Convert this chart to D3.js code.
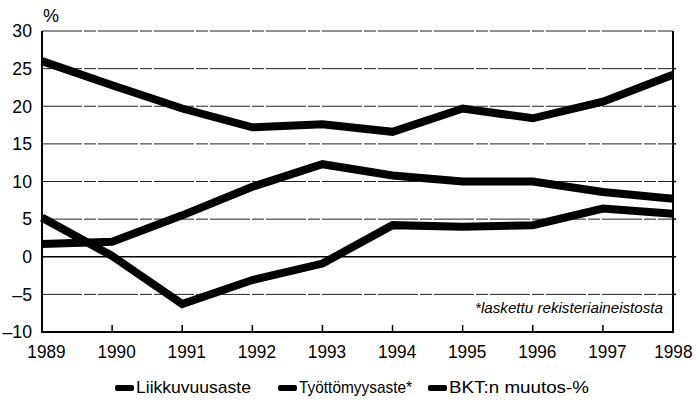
<!DOCTYPE html>
<meta charset="utf-8">
<style>
body { margin: 0; background: #fff; }
text { font-family: "Liberation Sans", Arial, sans-serif; fill: #000; }
.grid line { stroke: #222; stroke-width: 1; stroke-dasharray: 40,2,12,2; }
.series { fill: none; stroke: #000; stroke-width: 8; stroke-linejoin: miter; }
</style>
<svg width="696" height="403"></svg>
<script src="https://d3js.org/d3.v7.min.js"></script>
<script>

var years = [1989, 1990, 1991, 1992, 1993, 1994, 1995, 1996, 1997, 1998];
var liikkuvuus = [26.0, 22.8, 19.7, 17.2, 17.6, 16.6, 19.7, 18.4, 20.6, 24.2];
var tyottomyys = [1.7, 2.0, 5.5, 9.3, 12.3, 10.8, 10.0, 10.0, 8.6, 7.7];
var bkt = [5.2, 0.1, -6.3, -3.1, -0.9, 4.2, 4.0, 4.2, 6.4, 5.7];
var seriesNames = ["Liikkuvuusaste", "Työttömyysaste*", "BKT:n muutos-%"];
var yTicks = [-10, -5, 0, 5, 10, 15, 20, 25, 30];

var svg = d3.select("svg");

var x = d3.scaleLinear().domain([1989, 1998]).range([42, 673]);
var y = d3.scaleLinear().domain([-10, 30]).range([332, 31]);

// squeeze text horizontally, the original uses a condensed face
function condense(sel, k) {
  sel.each(function() {
    var w = this.getComputedTextLength();
    d3.select(this).attr("textLength", w * k).attr("lengthAdjust", "spacingAndGlyphs");
  });
}

// grid
svg.append("g").attr("class", "grid")
  .selectAll("line")
  .data(yTicks.filter(function(d) { return d !== -10 && d !== 0; }))
  .enter().append("line")
    .attr("x1", x(1989)).attr("x2", x(1998))
    .attr("y1", function(d) { return y(d); })
    .attr("y2", function(d) { return y(d); });

svg.append("line")
  .attr("x1", x(1989)).attr("x2", x(1998))
  .attr("y1", y(0)).attr("y2", y(0))
  .attr("stroke", "#000").attr("stroke-width", 1.5);

// frame
svg.append("line").attr("x1", x(1989)).attr("x2", x(1989)).attr("y1", y(30)).attr("y2", y(-10))
  .attr("stroke", "#000").attr("stroke-width", 2);
svg.append("line").attr("x1", x(1998)).attr("x2", x(1998)).attr("y1", y(30)).attr("y2", y(-10))
  .attr("stroke", "#000").attr("stroke-width", 2);
svg.append("line").attr("x1", x(1989) - 1).attr("x2", x(1998) + 1).attr("y1", y(-10)).attr("y2", y(-10))
  .attr("stroke", "#000").attr("stroke-width", 2);

// bottom axis
var xAxis = d3.axisBottom(x).tickValues(years).tickFormat(d3.format("d")).tickSize(0);
var gx = svg.append("g").attr("transform", "translate(0," + y(-10) + ")").call(xAxis);
gx.select(".domain").remove();
gx.selectAll("text")
  .attr("font-size", 18.5)
  .attr("y", 26).attr("dy", 0)
  .attr("x", function(d) { return d === 1998 ? 0 : 4; });
condense(gx.selectAll("text"), 0.93);
// last label is pulled in so it fits the page
gx.selectAll("text").filter(function(d) { return d === 1998; })
  .attr("text-anchor", "end").attr("x", 692 - x(1998));
svg.append("g").selectAll("line")
  .data(years.slice(1, -1))
  .enter().append("line")
    .attr("x1", function(d) { return x(d); }).attr("x2", function(d) { return x(d); })
    .attr("y1", y(-10)).attr("y2", y(-10) - 7)
    .attr("stroke", "#000").attr("stroke-width", 1.5);

// left axis
var yAxis = d3.axisLeft(y).tickValues(yTicks).tickFormat(function(d) { return d < 0 ? "\u2013" + Math.abs(d) : d; }).tickSize(0).tickPadding(10);
var gy = svg.append("g").attr("transform", "translate(" + x(1989) + ",0)").call(yAxis);
gy.select(".domain").remove();
gy.selectAll("text").attr("font-size", 18);
condense(gy.selectAll("text"), 0.98);

// right axis small ticks
svg.append("g").selectAll("line")
  .data(yTicks.slice(1, -1))
  .enter().append("line")
    .attr("x1", x(1998)).attr("x2", x(1998) + 3)
    .attr("y1", function(d) { return y(d); }).attr("y2", function(d) { return y(d); })
    .attr("stroke", "#000").attr("stroke-width", 1.5);

svg.append("text").attr("x", 43).attr("y", 22).attr("font-size", 18).text("%");

// series
var line = d3.line()
  .x(function(d, i) { return x(years[i]); })
  .y(function(d) { return y(d); });

[liikkuvuus, tyottomyys, bkt].forEach(function(s) {
  svg.append("path").attr("class", "series").attr("d", line(s));
});

svg.append("text")
  .attr("x", 475).attr("y", 313)
  .attr("font-size", 15)
  .attr("font-style", "italic")
  .attr("textLength", 188).attr("lengthAdjust", "spacingAndGlyphs")
  .text("*laskettu rekisteriaineistosta");

// legend
var legendX = [115, 278, 428];
var legendW = [115, 113, 140];
var lg = svg.append("g").selectAll("g")
  .data(seriesNames)
  .enter().append("g")
    .attr("transform", function(d, i) { return "translate(" + legendX[i] + ",393)"; });
lg.append("rect").attr("x", 0).attr("y", -8).attr("width", 19).attr("height", 6).attr("rx", 2);
lg.append("text").attr("x", 21).attr("y", 0).attr("font-size", 17)
  .attr("textLength", function(d, i) { return legendW[i]; })
  .attr("lengthAdjust", "spacingAndGlyphs")
  .text(function(d) { return d; });

</script>
